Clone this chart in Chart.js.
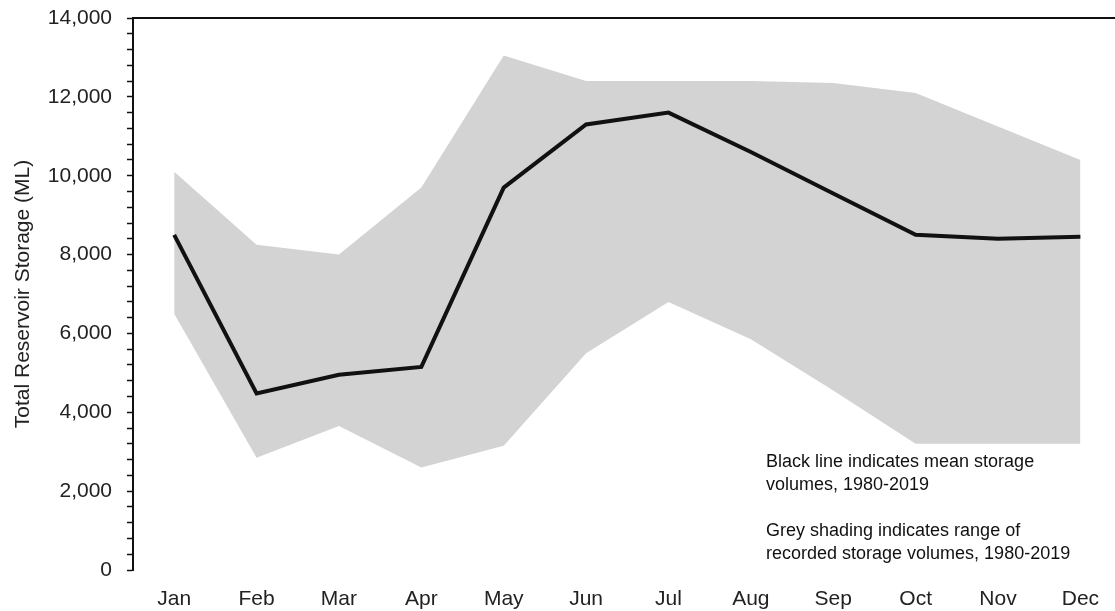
<!DOCTYPE html>
<html>
<head>
<meta charset="utf-8">
<script src="https://cdn.jsdelivr.net/npm/chart.js@4/dist/chart.umd.min.js"></script>
<style>
  html, body { margin: 0; padding: 0; background: #fff; }
  #wrap { position: relative; width: 1115px; height: 611px; }
  #note {
    position: absolute; left: 766px; top: 450px;
    font-family: "Liberation Sans", Arial, sans-serif;
    font-size: 18px; line-height: 23px; color: #111;
  }
  #note p { margin: 0 0 23px 0; }
</style>
</head>
<body>
<div id="wrap">
  <canvas id="storage" width="1115" height="611"></canvas>
  <div id="note">
    <p>Black line indicates mean storage<br>volumes, 1980-2019</p>
    <p>Grey shading indicates range of<br>recorded storage volumes, 1980-2019</p>
  </div>
</div>
<script>
// ===== RESERVOIR STORAGE — monthly mean and recorded range =====

const months = ['Jan', 'Feb', 'Mar', 'Apr', 'May', 'Jun', 'Jul', 'Aug', 'Sep', 'Oct', 'Nov', 'Dec'];
const meanStorage = [8500, 4480, 4950, 5150, 9700, 11300, 11600, 10600, 9550, 8500, 8400, 8450];
const maxStorage  = [10100, 8250, 8000, 9700, 13050, 12400, 12400, 12400, 12350, 12100, 11250, 10400];
const minStorage  = [6500, 2850, 3650, 2600, 3150, 5500, 6800, 5850, 4550, 3200, 3200, 3200];
const yTicks = [0, 2000, 4000, 6000, 8000, 10000, 12000, 14000];

const FONT = '"Liberation Sans", Arial, sans-serif';
const SHADE = 'rgb(211,211,211)';

const toPoints = arr => arr.map((v, i) => ({ x: i, y: v }));

// black rule along the top of the plot
const topRule = {
  id: 'topRule',
  afterDraw(chart) {
    const { ctx, chartArea } = chart;
    ctx.save();
    ctx.strokeStyle = '#111';
    ctx.lineWidth = 2;
    ctx.beginPath();
    ctx.moveTo(chartArea.left, chartArea.top);
    ctx.lineTo(chartArea.right, chartArea.top);
    ctx.stroke();
    ctx.restore();
  }
};

new Chart(document.getElementById('storage'), {
  type: 'line',
  data: {
    datasets: [
      {
        label: 'Min',
        data: toPoints(minStorage),
        borderWidth: 0,
        borderColor: 'transparent',
        pointRadius: 0,
        fill: false,
        order: 2
      },
      {
        label: 'Max',
        data: toPoints(maxStorage),
        borderWidth: 0,
        borderColor: 'transparent',
        backgroundColor: SHADE,
        pointRadius: 0,
        fill: 0,
        order: 1
      },
      {
        label: 'Mean',
        data: toPoints(meanStorage),
        borderColor: '#111',
        borderWidth: 4,
        pointRadius: 0,
        fill: false,
        tension: 0,
        order: 0
      }
    ]
  },
  options: {
    responsive: false,
    animation: false,
    layout: { padding: { top: 18, right: 0, bottom: 0, left: 0 } },
    plugins: {
      legend: { display: false },
      tooltip: { enabled: false }
    },
    scales: {
      x: {
        type: 'linear',
        min: -0.5,
        max: 11.42,
        grid: { display: false },
        border: { display: false },
        afterBuildTicks: s => { s.ticks = months.map((_, i) => ({ value: i })); },
        afterFit: s => { s.height = 41; },
        ticks: {
          color: '#222',
          font: { family: FONT, size: 21 },
          padding: 9,
          maxRotation: 0,
          autoSkip: false,
          callback: v => months[v]
        }
      },
      y: {
        min: 0,
        max: 14000,
        afterFit: s => { s.width = 133; s.paddingTop = 0; s.paddingBottom = 0; },
        grid: { drawOnChartArea: false, tickLength: 6, tickColor: '#111', tickWidth: 1.5 },
        border: { color: '#111', width: 2 },
        ticks: {
          stepSize: 400,
          autoSkip: false,
          color: '#222',
          padding: 15,
          font: { family: FONT, size: 21 },
          callback: v => yTicks.includes(v) ? v.toLocaleString('en-US') : ''
        },
        title: {
          display: true,
          text: 'Total Reservoir Storage (ML)',
          color: '#222',
          font: { family: FONT, size: 21 },
          padding: { top: 11, bottom: 0 }
        }
      }
    }
  },
  plugins: [topRule]
});
</script>
</body>
</html>
